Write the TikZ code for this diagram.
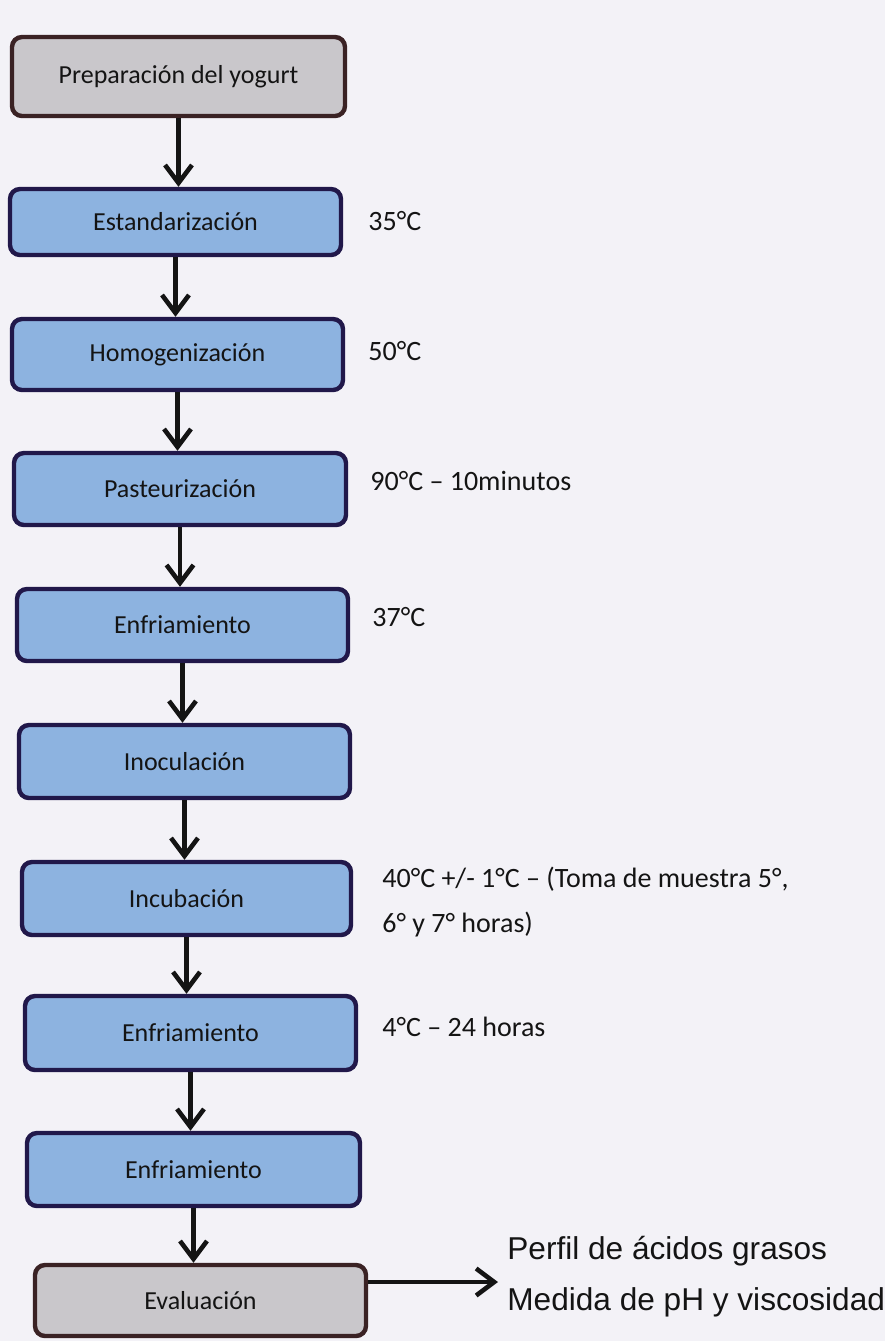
\documentclass[tikz,border=0pt]{standalone}
\usepackage{fontspec}
\setmainfont{Carlito}
\newfontfamily\arialfont{Liberation Sans}
\usetikzlibrary{arrows.meta}

\definecolor{paper}{HTML}{F3F2F7}
\definecolor{stepfill}{HTML}{8DB3E0}
\definecolor{stepline}{HTML}{21184A}
\definecolor{endfill}{HTML}{C9C7CB}
\definecolor{endline}{HTML}{3A2224}
\definecolor{ink}{HTML}{141414}

\begin{document}
\begin{tikzpicture}[x=0.5pt,y=-0.5pt,
  box/.style={rounded corners=5pt, line width=2.2pt, inner sep=0pt,
    font=\fontsize{13}{15}\selectfont, text=ink},
  stepbox/.style={box, draw=stepline, fill=stepfill},
  endbox/.style={box, draw=endline, fill=endfill},
  note/.style={anchor=west, inner sep=0pt, align=left,
    font=\fontsize{14}{22.5}\selectfont, text=ink},
  result/.style={anchor=west, inner sep=0pt,
    font=\arialfont\fontsize{15.8}{19}\selectfont, text=ink},
  flow/.style={line width=2.3pt, draw=ink,
    -{Straight Barb[length=9pt,width=13.5pt]}},
]
% page
\fill[paper] (0,0) rectangle (885,1341);
\useasboundingbox (0,0) rectangle (885,1341);

% process steps
\node[endbox,  minimum width=166.5pt, minimum height=39.5pt] (prep)  at (178.5,76.5)  {Preparación del yogurt};
\node[stepbox, minimum width=165.5pt, minimum height=33pt]   (estd)  at (175.5,222)   {Estandarización};
\node[stepbox, minimum width=165.5pt, minimum height=35.5pt] (homo)  at (177.5,354.5) {Homogenización};
\node[stepbox, minimum width=166pt,   minimum height=36pt]   (past)  at (180,489)     {Pasteurización};
\node[stepbox, minimum width=165.5pt, minimum height=36pt]   (enf1)  at (182.5,625)   {Enfriamiento};
\node[stepbox, minimum width=165.5pt, minimum height=36.5pt] (inoc)  at (184.5,761.5) {Inoculación};
\node[stepbox, minimum width=164.5pt, minimum height=36.5pt] (incu)  at (186.5,898.5) {Incubación};
\node[stepbox, minimum width=165.5pt, minimum height=37pt]   (enf2)  at (190.5,1033)  {Enfriamiento};
\node[stepbox, minimum width=166.5pt, minimum height=36.5pt] (enf3)  at (193.5,1169.5){Enfriamiento};
\node[endbox,  minimum width=165.5pt, minimum height=35.5pt] (eval)  at (200.5,1300.5){Evaluación};

% conditions of each step
\node[note] (t1) at (368,221)   {35°C};
\node[note] (t2) at (368,351)   {50°C};
\node[note] (t3) at (370,481)   {90°C – 10minutos};
\node[note] (t4) at (372,617)   {37°C};
\node[note] (t5) at (382,902.5) {40°C +/- 1°C – (Toma de muestra 5°,\\6° y 7° horas)};
\node[note] (t6) at (382,1027)  {4°C – 24 horas};

% analyses
\node[result] (r1) at (507,1251) {Perfil de ácidos grasos};
\node[result] (r2) at (507,1302) {Medida de pH y viscosidad};

% connectors: straight down from each step to the top of the next
\foreach \a/\b in {prep/estd, estd/homo, homo/past, past/enf1, enf1/inoc,
                   inoc/incu, incu/enf2, enf2/enf3, enf3/eval}
  \draw[flow] (\a.south) -- (\a.south |- \b.north);
\coordinate (res) at (498,1282);
\draw[flow] (eval.east |- res) -- (res);
\end{tikzpicture}
\end{document}
